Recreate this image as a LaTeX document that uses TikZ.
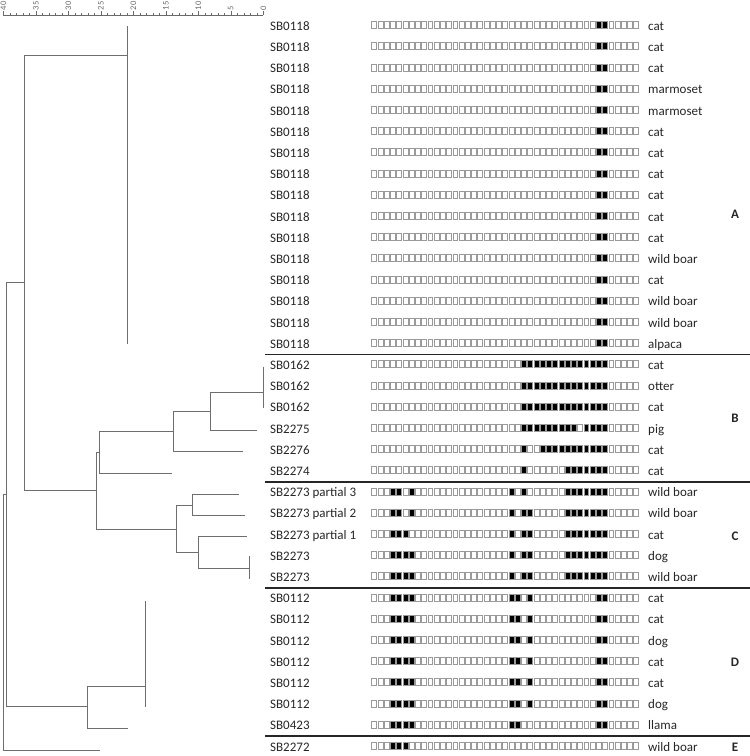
\documentclass[tikz,border=0pt]{standalone}
\usepackage{fontspec}
\setmainfont{Carlito}
\usepackage{tikz}
\usetikzlibrary{positioning}
\definecolor{ink}{HTML}{262626}
\definecolor{branchgray}{HTML}{6E6E6E}
\definecolor{cellgray}{HTML}{9A9A9A}
\definecolor{scalegray}{HTML}{6A6A6A}

\begin{document}
\begin{tikzpicture}[x=1pt,y=-1pt,
  strain/.style={anchor=base west,inner sep=0pt,font=\fontsize{13}{15}\selectfont,text=ink},
  hostname/.style={anchor=base west,inner sep=0pt,font=\fontsize{13}{15}\selectfont,text=ink},
  clus/.style={anchor=base,inner sep=0pt,font=\fontsize{13}{15}\selectfont\bfseries,text=ink},
  twig/.style={draw=branchgray,line width=1pt},
  spacer/.style={draw=cellgray,line width=0.6pt,fill=white},
  hit/.style={draw=cellgray,line width=0.6pt,fill=black},
  sepline/.style={draw=black!85,line width=1.6pt},
  scaleline/.style={draw=scalegray,line width=0.6pt},
  scalenum/.style={font=\fontsize{8.5}{9}\selectfont,text=scalegray,rotate=90,anchor=west,inner sep=0pt}
]
  \useasboundingbox (0,0) rectangle (750,756);

  % scale
  \draw[scaleline] (3.3,15) -- (263.3,15);
  \foreach \d in {0,...,40}
    \draw[scaleline] ({263.3-6.5*\d},15) -- ++(0,-2);
  \foreach \d in {0,5,...,40}{
    \draw[scaleline] ({263.3-6.5*\d},15) -- ++(0,-4);
    \node[scalenum] (t\d) at ({263.3-6.5*\d},10.5) {\d};
  }

  % strains, hosts and spoligotypes
  \foreach \k/\lab/\hst/\pat in {
    0/SB0118/cat/{37,38}, 1/SB0118/cat/{37,38}, 2/SB0118/cat/{37,38},
    3/SB0118/marmoset/{37,38}, 4/SB0118/marmoset/{37,38}, 5/SB0118/cat/{37,38},
    6/SB0118/cat/{37,38}, 7/SB0118/cat/{37,38}, 8/SB0118/cat/{37,38},
    9/SB0118/cat/{37,38}, 10/SB0118/cat/{37,38}, 11/SB0118/wild boar/{37,38},
    12/SB0118/cat/{37,38}, 13/SB0118/wild boar/{37,38}, 14/SB0118/wild boar/{37,38},
    15/SB0118/alpaca/{37,38},
    16/SB0162/cat/{25,...,38}, 17/SB0162/otter/{25,...,38}, 18/SB0162/cat/{25,...,38},
    19/SB2275/pig/{25,...,33,35,36,37,38}, 20/SB2276/cat/{25,28,29,...,38},
    21/SB2274/cat/{25,32,33,...,38},
    22/SB2273 partial 3/wild boar/{4,5,7,23,25,32,33,...,38},
    23/SB2273 partial 2/wild boar/{4,5,7,23,25,26,32,33,...,38},
    24/SB2273 partial 1/cat/{4,5,6,23,25,26,32,33,...,38},
    25/SB2273/dog/{4,5,6,7,23,25,26,32,33,...,38},
    26/SB2273/wild boar/{4,5,6,7,23,25,26,32,33,...,38},
    27/SB0112/cat/{4,5,6,7,23,24,26,37,38}, 28/SB0112/cat/{4,5,6,7,23,24,26,37,38},
    29/SB0112/dog/{4,5,6,7,23,24,26,37,38}, 30/SB0112/cat/{4,5,6,7,23,24,26,37,38},
    31/SB0112/cat/{4,5,6,7,23,24,26,37,38}, 32/SB0112/dog/{4,5,6,7,23,24,26,37,38},
    33/SB0423/llama/{4,5,6,7,23,24,37,38},
    34/SB2272/wild boar/{4,5,6}}{
    \pgfmathsetmacro\ry{26+21.2*\k}
    \node[strain] (s\k) at (270,\ry+4.3) {\lab};
    \node[hostname] (h\k) at (648,\ry+4.3) {\hst};
    \foreach \i in {1,...,43}
      \draw[spacer] ({371.7+6.24*(\i-1)},\ry-4.5) rectangle ++(4.9,7);
    \foreach \j in \pat
      \draw[hit] ({371.7+6.24*(\j-1)},\ry-4.5) rectangle ++(4.9,7);
  }

  % cluster separators and letters
  \foreach \sy in {354.6,481.8,587.8,736.2}
    \draw[sepline] (265,\sy) -- (750,\sy);
  \node[clus] (cA) at (735,218.3) {A};
  \node[clus] (cB) at (735,422.3) {B};
  \node[clus] (cC) at (735,540.3) {C};
  \node[clus] (cD) at (735,666.3) {D};
  \node[clus] (cE) at (735,751.1) {E};

  % dendrogram
  \coordinate (r0) at (3,622);
  \coordinate (n1) at (6,494);
  \coordinate (n2) at (24,282);
  \coordinate (nA) at (127,55);
  \coordinate (nBC) at (96.7,490.7);
  \coordinate (nB) at (99.3,452.7);
  \coordinate (nB1) at (173.3,431.7);
  \coordinate (nB2) at (210.7,411);
  \coordinate (g162) at (263.3,392.7);
  \coordinate (lB2275) at (256.7,430.3);
  \coordinate (lB2276) at (243.3,451.7);
  \coordinate (lB2274) at (171.7,473.3);
  \coordinate (nC) at (176,529);
  \coordinate (nC1) at (192.7,505);
  \coordinate (nC2) at (198.7,552.5);
  \coordinate (lP3) at (238.7,494.3);
  \coordinate (lP2) at (244.7,515.7);
  \coordinate (lP1) at (246.7,536.7);
  \coordinate (g2273) at (249.3,568.3);
  \coordinate (nD) at (87,706.7);
  \coordinate (g112) at (145,686.7);
  \coordinate (lD0423) at (128,728.3);
  \coordinate (lE) at (100,750);
  \coordinate (gA1) at (127,26);      \coordinate (gA2) at (127,344);
  \coordinate (g162a) at (263.3,366.7); \coordinate (g162b) at (263.3,408.3);
  \coordinate (g2273a) at (249.3,556);  \coordinate (g2273b) at (249.3,579);
  \coordinate (g112a) at (145,600.7);   \coordinate (g112b) at (145,706.7);

  \draw[twig] (r0) |- (n1);   \draw[twig] (r0) |- (lE);
  \draw[twig] (n1) |- (n2);   \draw[twig] (n1) |- (nD);
  \draw[twig] (n2) |- (nA);   \draw[twig] (n2) |- (nBC);
  \draw[twig] (nBC) |- (nB);  \draw[twig] (nBC) |- (nC);
  \draw[twig] (nB) |- (nB1);  \draw[twig] (nB) |- (lB2274);
  \draw[twig] (nB1) |- (nB2); \draw[twig] (nB1) |- (lB2276);
  \draw[twig] (nB2) |- (g162); \draw[twig] (nB2) |- (lB2275);
  \draw[twig] (nC) |- (nC1);  \draw[twig] (nC) |- (nC2);
  \draw[twig] (nC1) |- (lP3); \draw[twig] (nC1) |- (lP2);
  \draw[twig] (nC2) |- (lP1); \draw[twig] (nC2) |- (g2273);
  \draw[twig] (nD) |- (g112); \draw[twig] (nD) |- (lD0423);
  \draw[twig] (gA1) -- (gA2);
  \draw[twig] (g162a) -- (g162b);
  \draw[twig] (g2273a) -- (g2273b);
  \draw[twig] (g112a) -- (g112b);
\end{tikzpicture}
\end{document}
